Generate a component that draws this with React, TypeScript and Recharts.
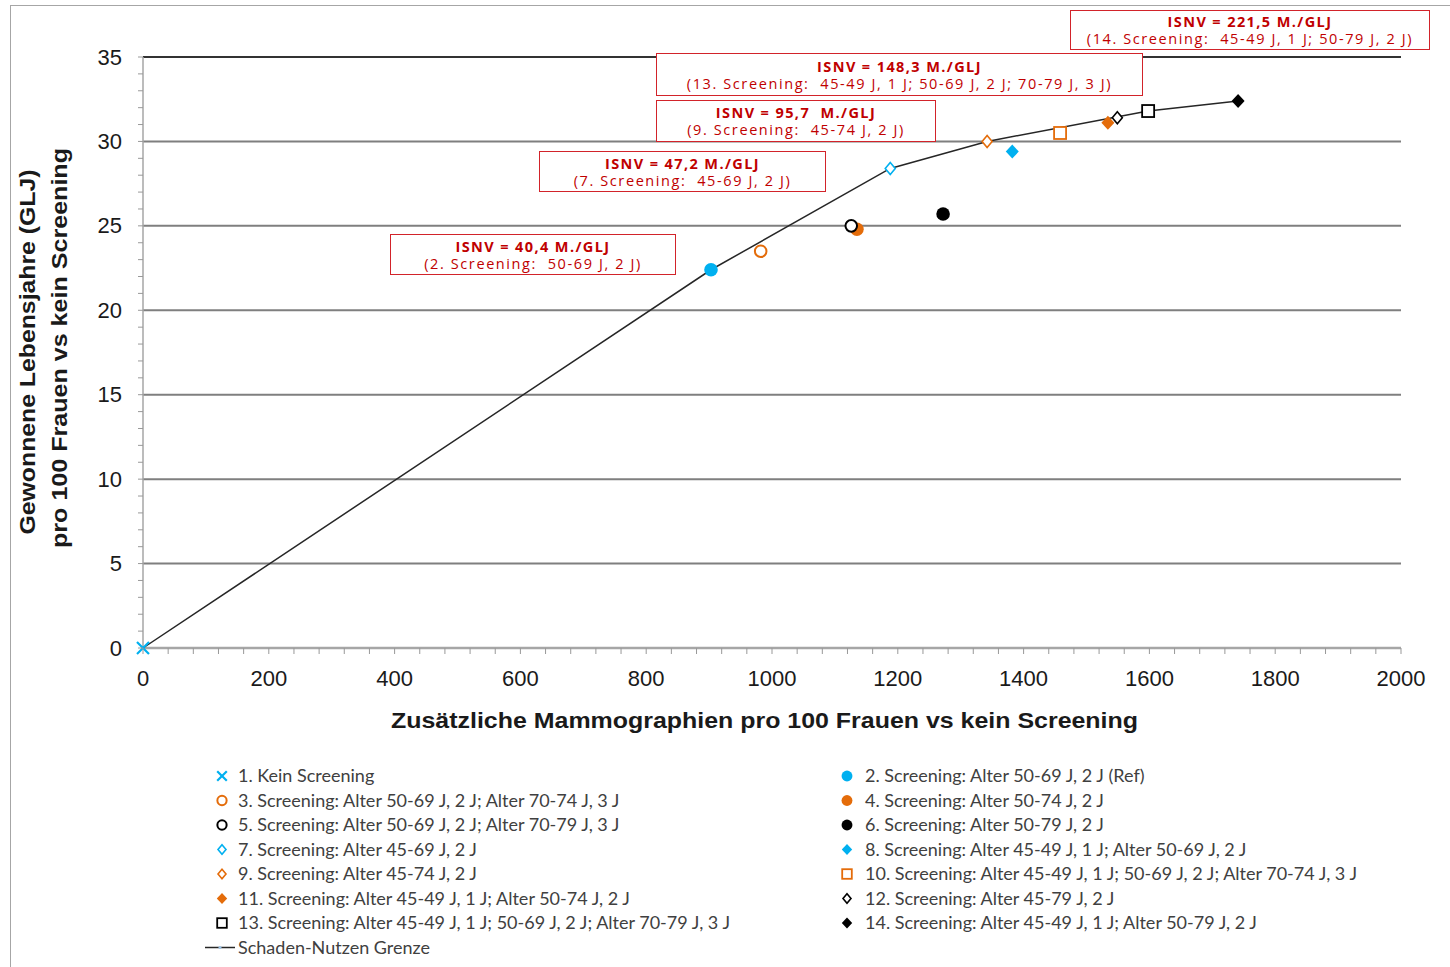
import React from 'react';
import { ScatterChart, Scatter, XAxis, YAxis, ReferenceLine } from 'recharts';

// ---------- data ----------
const scenarioLabels = [
  '1. Kein Screening',
  '2. Screening: Alter 50-69 J, 2 J (Ref)',
  '3. Screening: Alter 50-69 J, 2 J; Alter 70-74 J, 3 J',
  '4. Screening: Alter 50-74 J, 2 J',
  '5. Screening: Alter 50-69 J, 2 J; Alter 70-79 J, 3 J',
  '6. Screening: Alter 50-79 J, 2 J',
  '7. Screening: Alter 45-69 J, 2 J',
  '8. Screening: Alter 45-49 J, 1 J; Alter 50-69 J, 2 J',
  '9. Screening: Alter 45-74 J, 2 J',
  '10. Screening: Alter 45-49 J, 1 J; 50-69 J, 2 J; Alter 70-74 J, 3 J',
  '11. Screening: Alter 45-49 J, 1 J; Alter 50-74 J, 2 J',
  '12. Screening: Alter 45-79 J, 2 J',
  '13. Screening: Alter 45-49 J, 1 J; 50-69 J, 2 J; Alter 70-79 J, 3 J',
  '14. Screening: Alter 45-49 J, 1 J; Alter 50-79 J, 2 J',
];
const mammographies = [0, 903, 982, 1135, 1126, 1272, 1188, 1382, 1342, 1458, 1534, 1549, 1598, 1741];
const lifeYearsGained = [0, 22.4, 23.5, 24.8, 25.0, 25.7, 28.4, 29.4, 30.0, 30.5, 31.1, 31.4, 31.8, 32.4];
const frontierIndices = [0, 1, 6, 8, 12, 13];
const frontierLabel = 'Schaden-Nutzen Grenze';

const isnvHeadlines = ['ISNV = 221,5 M./GLJ', 'ISNV = 148,3 M./GLJ', 'ISNV = 95,7  M./GLJ', 'ISNV = 47,2 M./GLJ', 'ISNV = 40,4 M./GLJ'];
const isnvDetails = [
  '(14. Screening:  45-49 J, 1 J; 50-79 J, 2 J)',
  '(13. Screening:  45-49 J, 1 J; 50-69 J, 2 J; 70-79 J, 3 J)',
  '(9. Screening:  45-74 J, 2 J)',
  '(7. Screening:  45-69 J, 2 J)',
  '(2. Screening:  50-69 J, 2 J)',
];

const xTicks = Array.from({ length: 51 }, (_, i) => i * 40);
const yTicks = Array.from({ length: 36 }, (_, i) => i);
const yGridValues = [5, 10, 15, 20, 25, 30, 35];
const xAxisTitle = 'Zusätzliche Mammographien pro 100 Frauen vs kein Screening';
const yAxisTitle1 = 'Gewonnene Lebensjahre (GLJ)';
const yAxisTitle2 = 'pro 100 Frauen vs kein Screening';

// ---------- styles ----------
const BLUE = '#00b0f0';
const ORANGE = '#e46c0a';
const BLACK = '#000000';
type MarkerStyle = { type: 'x' | 'circle' | 'diamond' | 'square'; color: string; filled: boolean };
const markerStyles: MarkerStyle[] = [
  { type: 'x', color: BLUE, filled: false },
  { type: 'circle', color: BLUE, filled: true },
  { type: 'circle', color: ORANGE, filled: false },
  { type: 'circle', color: ORANGE, filled: true },
  { type: 'circle', color: BLACK, filled: false },
  { type: 'circle', color: BLACK, filled: true },
  { type: 'diamond', color: BLUE, filled: false },
  { type: 'diamond', color: BLUE, filled: true },
  { type: 'diamond', color: ORANGE, filled: false },
  { type: 'square', color: ORANGE, filled: false },
  { type: 'diamond', color: ORANGE, filled: true },
  { type: 'diamond', color: BLACK, filled: false },
  { type: 'square', color: BLACK, filled: false },
  { type: 'diamond', color: BLACK, filled: true },
];

const annotationBoxes = [
  { left: 1070, top: 10, width: 360, height: 40 },
  { left: 656, top: 53, width: 487, height: 43 },
  { left: 656, top: 100, width: 280, height: 42 },
  { left: 539, top: 151, width: 287, height: 41 },
  { left: 390, top: 234, width: 286, height: 41 },
];

const ARIAL = 'Liberation Sans, Arial, sans-serif';

function Marker({ cx, cy, s, scale = 1 }: { cx: number; cy: number; s: MarkerStyle; scale?: number }) {
  if (cx == null || cy == null) return <g />;
  const fill = s.filled ? s.color : '#ffffff';
  if (s.type === 'x') {
    const d = 6 * scale;
    return (
      <g stroke={s.color} strokeWidth={2.2}>
        <line x1={cx - d} y1={cy - d} x2={cx + d} y2={cy + d} />
        <line x1={cx - d} y1={cy + d} x2={cx + d} y2={cy - d} />
      </g>
    );
  }
  if (s.type === 'circle') {
    const r = (s.filled ? 6.8 : 5.8) * scale;
    return <circle cx={cx} cy={cy} r={r} fill={fill} stroke={s.color} strokeWidth={s.filled ? 0 : 2} />;
  }
  if (s.type === 'diamond') {
    const h = (s.filled ? 7 : 6) * scale;
    const w = (s.filled ? 6.5 : 5) * scale;
    return (
      <polygon
        points={`${cx},${cy - h} ${cx + w},${cy} ${cx},${cy + h} ${cx - w},${cy}`}
        fill={fill}
        stroke={s.color}
        strokeWidth={s.filled ? 0 : 1.6}
      />
    );
  }
  const a = 6 * scale;
  return <rect x={cx - a} y={cy - a} width={2 * a} height={2 * a} fill={fill} stroke={s.color} strokeWidth={1.8} />;
}

const YTick = (props: any) => {
  const { x, y, payload } = props;
  const v = payload.value;
  return (
    <g>
      <line x1={x - 5} y1={y} x2={x} y2={y} stroke="#999" strokeWidth={1} />
      {v % 5 === 0 && (
        <text x={x - 21} y={y} dy={7.5} textAnchor="end" fontSize={22} fill="#1a1a1a" fontFamily={ARIAL}>
          {v}
        </text>
      )}
    </g>
  );
};

const XTick = (props: any) => {
  const { x, y, payload } = props;
  const v = payload.value;
  return (
    <g>
      <line x1={x} y1={y} x2={x} y2={y + 6} stroke="#999" strokeWidth={1} />
      {v % 200 === 0 && (
        <text x={x} y={y + 30} dy={7.5} textAnchor="middle" fontSize={22} fill="#1a1a1a" fontFamily={ARIAL}>
          {v}
        </text>
      )}
    </g>
  );
};

export default function App() {
  const frontierData = frontierIndices.map((i) => ({ x: mammographies[i], y: lifeYearsGained[i] }));
  const legendLeft = [0, 2, 4, 6, 8, 10, 12];
  const legendRight = [1, 3, 5, 7, 9, 11, 13];
  const rowY = (r: number) => 776 + r * 24.5;
  const legendFont = { fontFamily: 'Lato, sans-serif', fontSize: 18, fill: '#404040' } as const;

  return (
    <div style={{ position: 'absolute', left: 0, top: 0, width: 1450, height: 967, background: '#fff', overflow: 'hidden' }}>
      <div style={{ position: 'absolute', left: 10, top: 5, width: 1500, height: 1000, borderLeft: '1.5px solid #a6a6a6', borderTop: '1.5px solid #a6a6a6' }} />
      <div style={{ position: 'absolute', left: 0, top: 0 }}>
        <ScatterChart width={1450} height={967} margin={{ top: 57, right: 49, bottom: 279, left: 0 }}>
          {yGridValues.map((v) => (
            <ReferenceLine key={v} y={v} stroke={v === 35 ? '#333' : '#7f7f7f'} strokeWidth={2} ifOverflow="visible" />
          ))}
          <XAxis
            type="number"
            dataKey="x"
            domain={[0, 2000]}
            ticks={xTicks}
            interval={0}
            height={40}
            tickSize={0}
            tickMargin={0}
            tickLine={false}
            tick={<XTick />}
            axisLine={{ stroke: '#a6a6a6', strokeWidth: 2.5 }}
          />
          <YAxis
            type="number"
            dataKey="y"
            domain={[0, 35]}
            ticks={yTicks}
            interval={0}
            width={143}
            tickSize={0}
            tickMargin={0}
            tickLine={false}
            tick={<YTick />}
            axisLine={{ stroke: '#a6a6a6', strokeWidth: 1.5 }}
          />
          <Scatter
            name={frontierLabel}
            data={frontierData}
            line={{ stroke: '#262626', strokeWidth: 1.5 }}
            shape={() => <g />}
            isAnimationActive={false}
          />
          {scenarioLabels.map((label, i) => (
            <Scatter
              key={label}
              name={label}
              data={[{ x: mammographies[i], y: lifeYearsGained[i] }]}
              shape={(p: any) => <Marker cx={p.cx} cy={p.cy} s={markerStyles[i]} />}
              isAnimationActive={false}
            />
          ))}
        </ScatterChart>
      </div>

      {/* axis titles and legend */}
      <svg width={1450} height={967} style={{ position: 'absolute', left: 0, top: 0, pointerEvents: 'none' }}>
        <text x={764.5} y={721} dy={7} textAnchor="middle" fontSize={22} fontWeight="bold" fill="#1a1a1a" fontFamily={ARIAL} textLength={747} lengthAdjust="spacingAndGlyphs">
          {xAxisTitle}
        </text>
        <text transform="translate(28,352) rotate(-90)" dy={7} textAnchor="middle" fontSize={22} fontWeight="bold" fill="#1a1a1a" fontFamily={ARIAL} textLength={365} lengthAdjust="spacingAndGlyphs">
          {yAxisTitle1}
        </text>
        <text transform="translate(60,348) rotate(-90)" dy={7} textAnchor="middle" fontSize={22} fontWeight="bold" fill="#1a1a1a" fontFamily={ARIAL} textLength={400} lengthAdjust="spacingAndGlyphs">
          {yAxisTitle2}
        </text>
        {legendLeft.map((idx, r) => (
          <g key={idx}>
            <Marker cx={222} cy={rowY(r)} s={markerStyles[idx]} scale={0.8} />
            <text x={238} y={rowY(r)} dy={6} {...legendFont}>{scenarioLabels[idx]}</text>
          </g>
        ))}
        {legendRight.map((idx, r) => (
          <g key={idx}>
            <Marker cx={847} cy={rowY(r)} s={markerStyles[idx]} scale={0.8} />
            <text x={865} y={rowY(r)} dy={6} {...legendFont}>{scenarioLabels[idx]}</text>
          </g>
        ))}
        <g>
          <line x1={205} y1={rowY(7)} x2={235} y2={rowY(7)} stroke="#262626" strokeWidth={1.5} />
          <circle cx={220} cy={rowY(7)} r={1.5} fill="#9dc3e6" />
          <text x={238} y={rowY(7)} dy={6} {...legendFont}>{frontierLabel}</text>
        </g>
      </svg>

      {annotationBoxes.map((b, i) => (
        <div
          key={i}
          style={{
            position: 'absolute',
            left: b.left,
            top: b.top,
            width: b.width,
            height: b.height,
            boxSizing: 'border-box',
            border: '1.5px solid #d2232a',
            background: '#fff',
            color: '#c00000',
            fontFamily: 'Open Sans, sans-serif',
            textAlign: 'center',
            display: 'flex',
            flexDirection: 'column',
            justifyContent: 'center',
            lineHeight: '17px',
            whiteSpace: 'pre',
          }}
        >
          <div style={{ fontWeight: 'bold', fontSize: 14.5, letterSpacing: 1.4 }}>{isnvHeadlines[i]}</div>
          <div style={{ fontSize: 14.5, letterSpacing: 1.6 }}>{isnvDetails[i]}</div>
        </div>
      ))}
    </div>
  );
}
